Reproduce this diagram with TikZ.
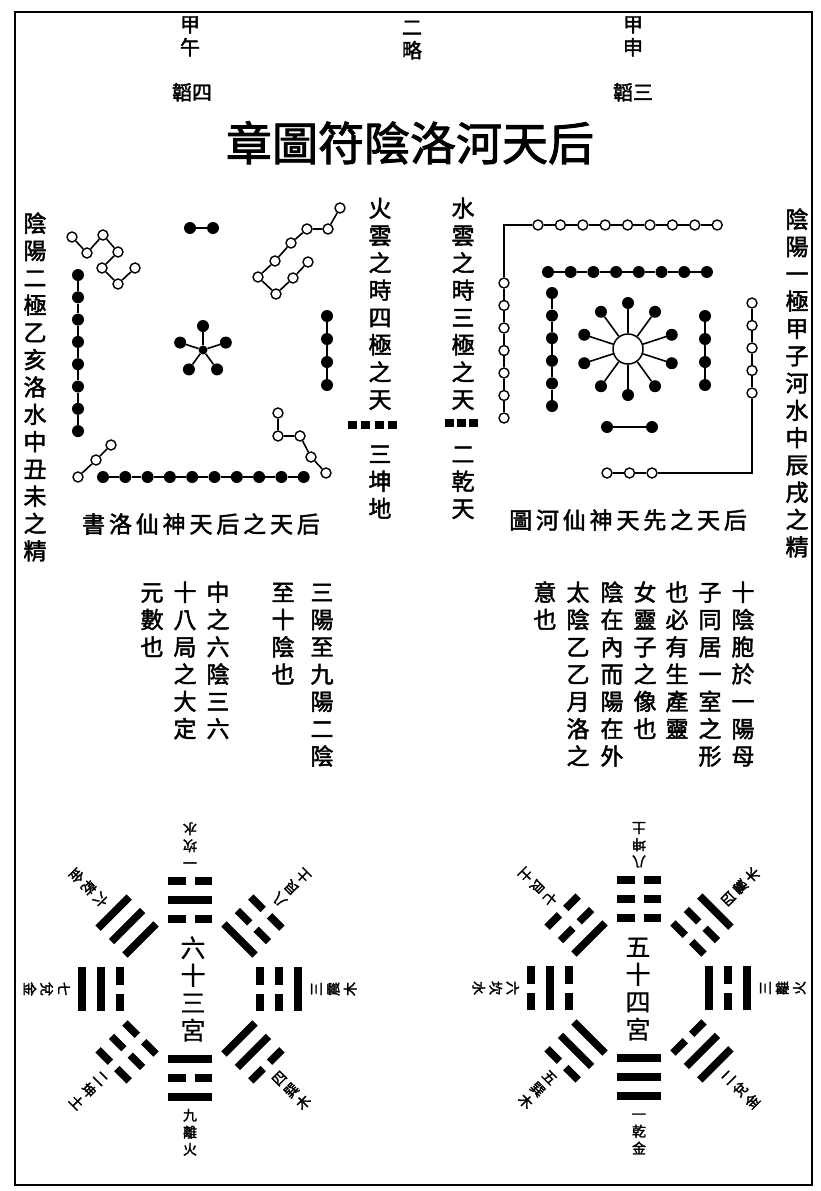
\documentclass[tikz,border=0pt]{standalone}
\usepackage{fontspec}
\setmainfont{Noto Sans CJK TC}
\newfontfamily\heavy[FakeBold=2]{Noto Sans CJK TC}
\newfontfamily\thinfont[FakeBold=0.5]{Noto Sans CJK TC}
\newcommand\cjkstrut{\rule[-0.12em]{0pt}{1em}}
% trigram: cx, cy, rotation, outer, middle, inner (1 solid, 0 broken)
\newcommand\yaoline[2]{\ifnum#2=1 \draw[yao] (-22,#1) -- (22,#1);\else\draw[yao] (-22,#1) -- (-4.5,#1) (4.5,#1) -- (22,#1);\fi}
\newcommand\trigram[6]{\begin{scope}[shift={(#1,#2)},rotate=#3]\yaoline{108}{#4}\yaoline{89}{#5}\yaoline{70}{#6}\end{scope}}
\begin{document}
\begin{tikzpicture}[x=1pt,y=-1pt,
 bdot/.style={circle,fill=black,inner sep=0pt,minimum size=12pt},
 cdot/.style={circle,fill=black,inner sep=0pt,minimum size=9pt},
 wdot/.style={circle,draw=black,fill=white,line width=1.4pt,inner sep=0pt,minimum size=10pt},
 bigw/.style={circle,draw=black,fill=white,line width=1.5pt,inner sep=0pt,minimum size=30pt},
 link/.style={line width=1.6pt},
 yao/.style={line width=7.5pt},
 txt/.style={inner sep=0pt,align=center},
 vcol/.style={txt,anchor=north,font=\heavy\fontsize{23}{27.3}\selectfont},
 hdr/.style={txt,anchor=north,font=\heavy\fontsize{20}{23}\selectfont},
 captext/.style={txt,font=\heavy\fontsize{23}{27}\selectfont},
 glab/.style={txt,anchor=north,font=\heavy\fontsize{14}{17}\selectfont},
 gctr/.style={txt,font=\thinfont\fontsize{25}{27.5}\selectfont},
]
\useasboundingbox (0,0) rectangle (820,1191);
\fill[white] (0,0) rectangle (820,1191);
\draw[line width=2.4pt] (15,12) rectangle (812,1185);

% header
\node[hdr] (jw) at (190,14) {\cjkstrut 甲\\午};
\node[hdr] (t4) at (192,82) {\cjkstrut 韜四};
\node[hdr] (el) at (412,17) {\cjkstrut 二\\略};
\node[hdr] (js) at (633,14) {\cjkstrut 甲\\申};
\node[hdr] (t3) at (633,82) {\cjkstrut 韜三};
\node[txt,font=\heavy\fontsize{46}{46}\selectfont] (title) at (410,143) {\cjkstrut 章圖符陰洛河天后};

% side columns
\node[vcol] (lcol) at (35,211.5) {\cjkstrut 陰\\陽\\二\\極\\乙\\亥\\洛\\水\\中\\丑\\未\\之\\精};
\node[vcol] (rcol) at (797,207.5) {\cjkstrut 陰\\陽\\一\\極\\甲\\子\\河\\水\\中\\辰\\戌\\之\\精};
\node[vcol] (fcol) at (380,196.5) {\cjkstrut 火\\雲\\之\\時\\四\\極\\之\\天\\\mbox{}\cjkstrut\\三\\坤\\地};
\node[vcol] (scol) at (463,196.5) {\cjkstrut 水\\雲\\之\\時\\三\\極\\之\\天\\\mbox{}\cjkstrut\\二\\乾\\天};
\foreach \x in {352.5,365.8,379.1,392.4} \fill (\x-4.5,421) rectangle (\x+4.5,429);
\foreach \x in {449.5,461.5,473.5} \fill (\x-4.5,419) rectangle (\x+4.5,427);

% captions
\node[captext] (lcap) at (201,524) {\cjkstrut 書\,洛\,仙\,神\,天\,后\,之\,天\,后};
\node[captext] (rcap) at (628,520) {\cjkstrut 圖\,河\,仙\,神\,天\,先\,之\,天\,后};

% middle columns
\node[vcol] (m1) at (322,580.5) {\cjkstrut 三\\陽\\至\\九\\陽\\二\\陰};
\node[vcol] (m2) at (283,580.5) {\cjkstrut 至\\十\\陰\\也};
\node[vcol] (m3) at (218,580.5) {\cjkstrut 中\\之\\六\\陰\\三\\六};
\node[vcol] (m4) at (185,580.5) {\cjkstrut 十\\八\\局\\之\\大\\定};
\node[vcol] (m5) at (152,580.5) {\cjkstrut 元\\數\\也};
\node[vcol] (n1) at (743,580.5) {\cjkstrut 十\\陰\\胞\\於\\一\\陽\\母};
\node[vcol] (n2) at (710,580.5) {\cjkstrut 子\\同\\居\\一\\室\\之\\形};
\node[vcol] (n3) at (677,580.5) {\cjkstrut 也\\必\\有\\生\\產\\靈};
\node[vcol] (n4) at (645,580.5) {\cjkstrut 女\\靈\\子\\之\\像\\也};
\node[vcol] (n5) at (612,580.5) {\cjkstrut 陰\\在\\內\\而\\陽\\在\\外};
\node[vcol] (n6) at (578,580.5) {\cjkstrut 太\\陰\\乙\\乙\\月\\洛\\之};
\node[vcol] (n7) at (545,580.5) {\cjkstrut 意\\也};

% ===== Lo Shu (left) =====
\node[bdot] (ta) at (190,228) {};
\node[bdot] (tb) at (213,228) {};
\draw[link] (ta) -- (tb);
\node[cdot] (c6) at (203,350) {};
\foreach \a [count=\k] in {90,18,-54,-126,162} \node[bdot] (c\k) at ([shift={(\a:24pt)}]c6) {};
\foreach \k in {1,...,5} \draw[link] (c6) -- (c\k);
\foreach \i in {0,...,7} \node[bdot] (lw\i) at (78,275+22.3*\i) {};
\foreach \i [remember=\i as \p (initially 0)] in {1,...,7} \draw[link] (lw\p) -- (lw\i);
\foreach \i in {0,...,3} \node[bdot] (le\i) at (327,316+23*\i) {};
\foreach \i [remember=\i as \p (initially 0)] in {1,...,3} \draw[link] (le\p) -- (le\i);
\foreach \i in {0,...,9} \node[bdot] (ls\i) at (103+22.3*\i,477) {};
\foreach \i [remember=\i as \p (initially 0)] in {1,...,9} \draw[link] (ls\p) -- (ls\i);
\foreach \x/\y [count=\k] in {72/237,87/253,103/235,118/252,102/268,118/284,135/268} \node[wdot] (q7\k) at (\x,\y) {};
\foreach \i [remember=\i as \p (initially 1)] in {2,...,7} \draw[link] (q7\p) -- (q7\i);
\foreach \x/\y [count=\k] in {340/208,328/229,307/229,291/243,275/261,258/277,276/294,293/278,308/262} \node[wdot] (q9\k) at (\x,\y) {};
\foreach \i [remember=\i as \p (initially 1)] in {2,...,9} \draw[link] (q9\p) -- (q9\i);
\foreach \x/\y [count=\k] in {78/477,96/460,111/445} \node[wdot] (q3\k) at (\x,\y) {};
\foreach \i [remember=\i as \p (initially 1)] in {2,3} \draw[link] (q3\p) -- (q3\i);
\foreach \x/\y [count=\k] in {278/413,278/436,300/436,311/457,326/473} \node[wdot] (q5\k) at (\x,\y) {};
\foreach \i [remember=\i as \p (initially 1)] in {2,...,5} \draw[link] (q5\p) -- (q5\i);

% ===== He Tu (right) =====
\foreach \i in {1,...,9} \node[wdot] (hw\i) at (515.6+22.4*\i,225) {};
\foreach \i [remember=\i as \p (initially 1)] in {2,...,9} \draw[link] (hw\p) -- (hw\i);
\foreach \i in {1,...,7} \node[wdot] (hl\i) at (504,260.5+22.5*\i) {};
\foreach \i [remember=\i as \p (initially 1)] in {2,...,7} \draw[link] (hl\p) -- (hl\i);
\draw[link] (hl1) |- (hw1);
\foreach \i in {1,...,5} \node[wdot] (hr\i) at (752,280.5+22.5*\i) {};
\foreach \i [remember=\i as \p (initially 1)] in {2,...,5} \draw[link] (hr\p) -- (hr\i);
\foreach \i in {1,...,3} \node[wdot] (hb\i) at (584.5+22.5*\i,473) {};
\foreach \i [remember=\i as \p (initially 1)] in {2,3} \draw[link] (hb\p) -- (hb\i);
\draw[link] (hb3) -| (hr5);
\foreach \i in {1,...,8} \node[bdot] (kt\i) at (525.3+22.7*\i,272) {};
\foreach \i [remember=\i as \p (initially 1)] in {2,...,8} \draw[link] (kt\p) -- (kt\i);
\foreach \i in {1,...,6} \node[bdot] (kl\i) at (552,270.4+22.6*\i) {};
\foreach \i [remember=\i as \p (initially 1)] in {2,...,6} \draw[link] (kl\p) -- (kl\i);
\foreach \i in {1,...,4} \node[bdot] (kr\i) at (705,293+23*\i) {};
\foreach \i [remember=\i as \p (initially 1)] in {2,...,4} \draw[link] (kr\p) -- (kr\i);
\node[bdot] (kb1) at (607,427) {};
\node[bdot] (kb2) at (652,427) {};
\draw[link] (kb1) -- (kb2);
\node[bigw] (hc) at (628,349) {};
\foreach \k in {0,...,9} {
  \node[bdot] (hs\k) at ([shift={(90+36*\k:46pt)}]hc) {};
  \draw[link] (hc) -- (hs\k);
}

% ===== left bagua =====
\coordinate (LB) at (190,989);
\node[gctr] (lbc) at (193,989) {\cjkstrut 六\\十\\三\\宮\cjkstrut};
\trigram{190}{989}{0}{1}{0}{1}
\trigram{190}{989}{90}{1}{0}{0}
\trigram{190}{989}{135}{0}{0}{1}
\trigram{190}{989}{180}{0}{1}{0}
\trigram{190}{989}{225}{1}{1}{1}
\trigram{190}{989}{270}{1}{1}{0}
\trigram{190}{989}{-45}{0}{0}{0}
\trigram{190}{989}{45}{0}{1}{1}
\foreach \a/\p/\q/\r [count=\k] in {-90/九/離/火,0/三/震/木,45/八/艮/土,90/一/坎/水,135/六/乾/金,180/七/兌/金,-135/二/坤/土,-45/四/巽/木}
  \node[glab,rotate=\a+90] (lg\k) at ([shift={(\a:119pt)}]LB) {\cjkstrut\p\\\q\\\r};

% ===== right bagua =====
\coordinate (RB) at (639,988);
\node[gctr] (rbc) at (638,988) {\cjkstrut 五\\十\\四\\宮\cjkstrut};
\trigram{639}{988}{0}{1}{1}{1}
\trigram{639}{988}{180}{0}{0}{0}
\trigram{639}{988}{90}{1}{0}{1}
\trigram{639}{988}{270}{0}{1}{0}
\trigram{639}{988}{45}{1}{1}{0}
\trigram{639}{988}{-45}{0}{1}{1}
\trigram{639}{988}{135}{1}{0}{0}
\trigram{639}{988}{225}{0}{0}{1}
\foreach \a/\p/\q/\r [count=\k] in {-90/一/乾/金,0/三/離/火,45/四/震/木,90/八/坤/土,135/七/艮/土,180/六/坎/水,-135/五/巽/木,-45/二/兌/金}
  \node[glab,rotate=\a+90] (rg\k) at ([shift={(\a:119pt)}]RB) {\cjkstrut\p\\\q\\\r};
\end{tikzpicture}
\end{document}
